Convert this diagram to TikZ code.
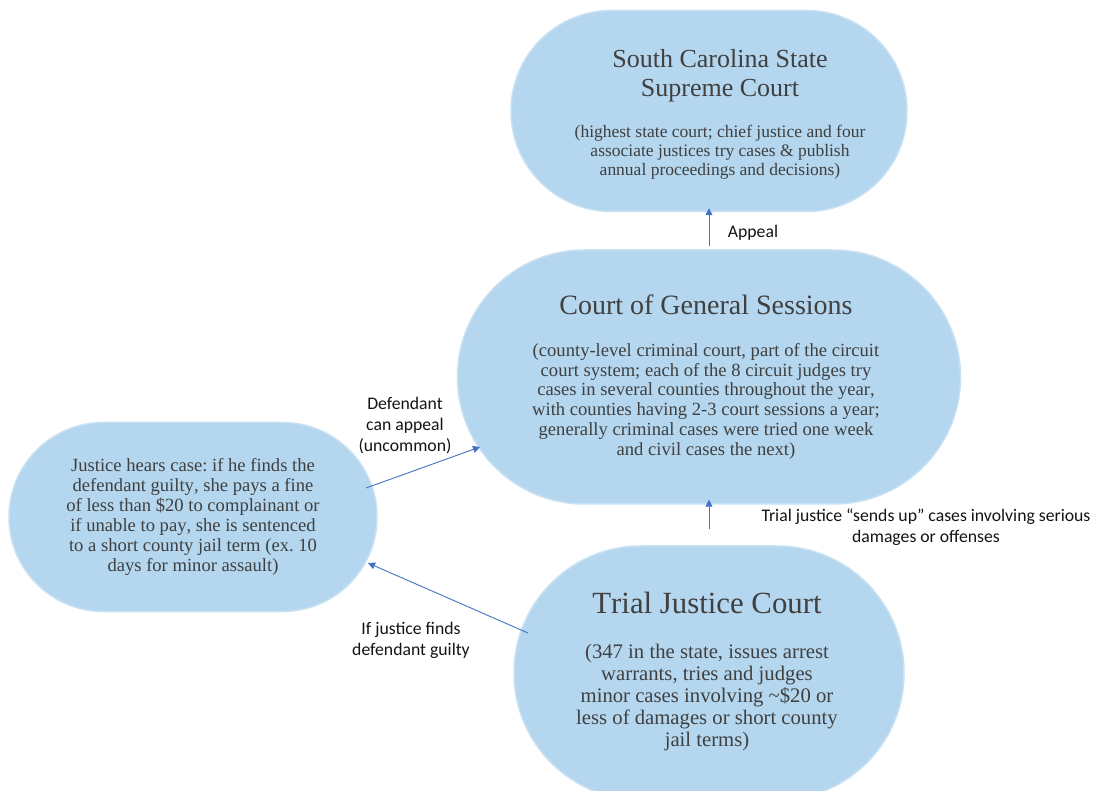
\documentclass[tikz,border=0pt]{standalone}
\usepackage{fontspec}
\setmainfont[Kerning=Off]{Liberation Serif}
\newfontfamily\labfont{Carlito}
\usetikzlibrary{arrows.meta}
\definecolor{nodefill}{RGB}{180,214,238}
\definecolor{nodeedge}{RGB}{200,225,243}
\definecolor{nodetext}{RGB}{64,64,64}
\definecolor{arrowblue}{RGB}{68,114,196}
\definecolor{labeltext}{RGB}{20,20,20}
\newcommand\ws{\spaceskip=0.25em\relax\xspaceskip=0.25em\relax}
\tikzset{
  court/.style={rectangle, fill=nodefill, draw=nodeedge, line width=1.5pt, inner sep=0pt},
  courttext/.style={text=nodetext, align=center, inner sep=0pt},
  arr/.style={draw=arrowblue, line width=0.9pt, -{Triangle[length=7pt,width=7pt]}},
  lab/.style={font=\labfont\fontsize{17.7}{21}\selectfont, text=labeltext, align=center, inner sep=0pt}
}
\begin{document}
\begin{tikzpicture}[x=1pt,y=-1pt]
\useasboundingbox (0,0) rectangle (1096,791);
\fill[white] (0,0) rectangle (1096,791);

% shapes
\node[court, rounded corners=100.5pt, minimum width=396pt, minimum height=201pt] (sup) at (709,111) {};
\node[court, rounded corners=127pt, minimum width=503pt, minimum height=254pt] (gen) at (709,377) {};
\node[court, rounded corners=94.5pt, minimum width=368pt, minimum height=189pt] (left) at (193,517) {};
\node[court, rounded corners=127pt, minimum width=390pt, minimum height=254pt] (trial) at (709,673) {};

% texts
\node[courttext, text width=370pt] (suptxt) at ([shift={(11pt,-3.5pt)}]sup.center)
 {{\fontsize{26}{29}\selectfont\ws South Carolina State\\Supreme Court\par}\vspace{22pt}
  {\fontsize{17.5}{19}\selectfont\ws (highest state court; chief justice and four\\associate justices try cases \& publish\\annual proceedings and decisions)\par}};

\node[courttext, text width=470pt] (gentxt) at ([shift={(-3pt,0pt)}]gen.center)
 {{\fontsize{28}{30}\selectfont\ws Court of General Sessions\par}\vspace{22pt}
  {\fontsize{18.6}{19.8}\selectfont\ws (county-level criminal court, part of the circuit\\court system; each of the 8 circuit judges try\\cases in several counties throughout the year,\\with counties having 2-3 court sessions a year;\\generally criminal cases were tried one week\\and civil cases the next)\par}};

\node[courttext, text width=350pt] (lefttxt) at (left.center)
 {{\fontsize{18.6}{20}\selectfont\ws Justice hears case: if he finds the\\defendant guilty, she pays a fine\\of less than \$20 to complainant or\\if unable to pay, she is sentenced\\to a short county jail term (ex. 10\\days for minor assault)\par}};

\node[courttext, text width=370pt] (trialtxt) at ([shift={(-2pt,1pt)}]trial.center)
 {{\fontsize{30.8}{33}\selectfont\ws Trial Justice Court\par}\vspace{22pt}
  {\fontsize{20.7}{22.2}\selectfont\ws (347 in the state, issues arrest\\warrants, tries and judges\\minor cases involving \textasciitilde\$20 or\\less of damages or short county\\jail terms)\par}};

% connectors
\draw[arr, shorten <=3pt, shorten >=-4pt] (gen.north) -- (sup.south);
\draw[arr, shorten <=16pt, shorten >=-5pt] (trial.north) -- (gen.south);
\draw[arr] ([shift={(173pt,29pt)}]left.center) -- ([shift={(-229pt,-70pt)}]gen.center);
\draw[arr] ([shift={(-181pt,40pt)}]trial.center) -- ([shift={(175pt,-46pt)}]left.center);

% labels
\node[lab] (lapp) at (753,233) {Appeal};
\node[lab] (lsend) at (926,527) {Trial justice “sends up” cases involving serious\\damages or offenses};
\node[lab] (ldef) at (405,426) {Defendant\\can appeal\\(uncommon)};
\node[lab] (lguilty) at (411,640) {If justice finds\\defendant guilty};
\end{tikzpicture}
\end{document}
